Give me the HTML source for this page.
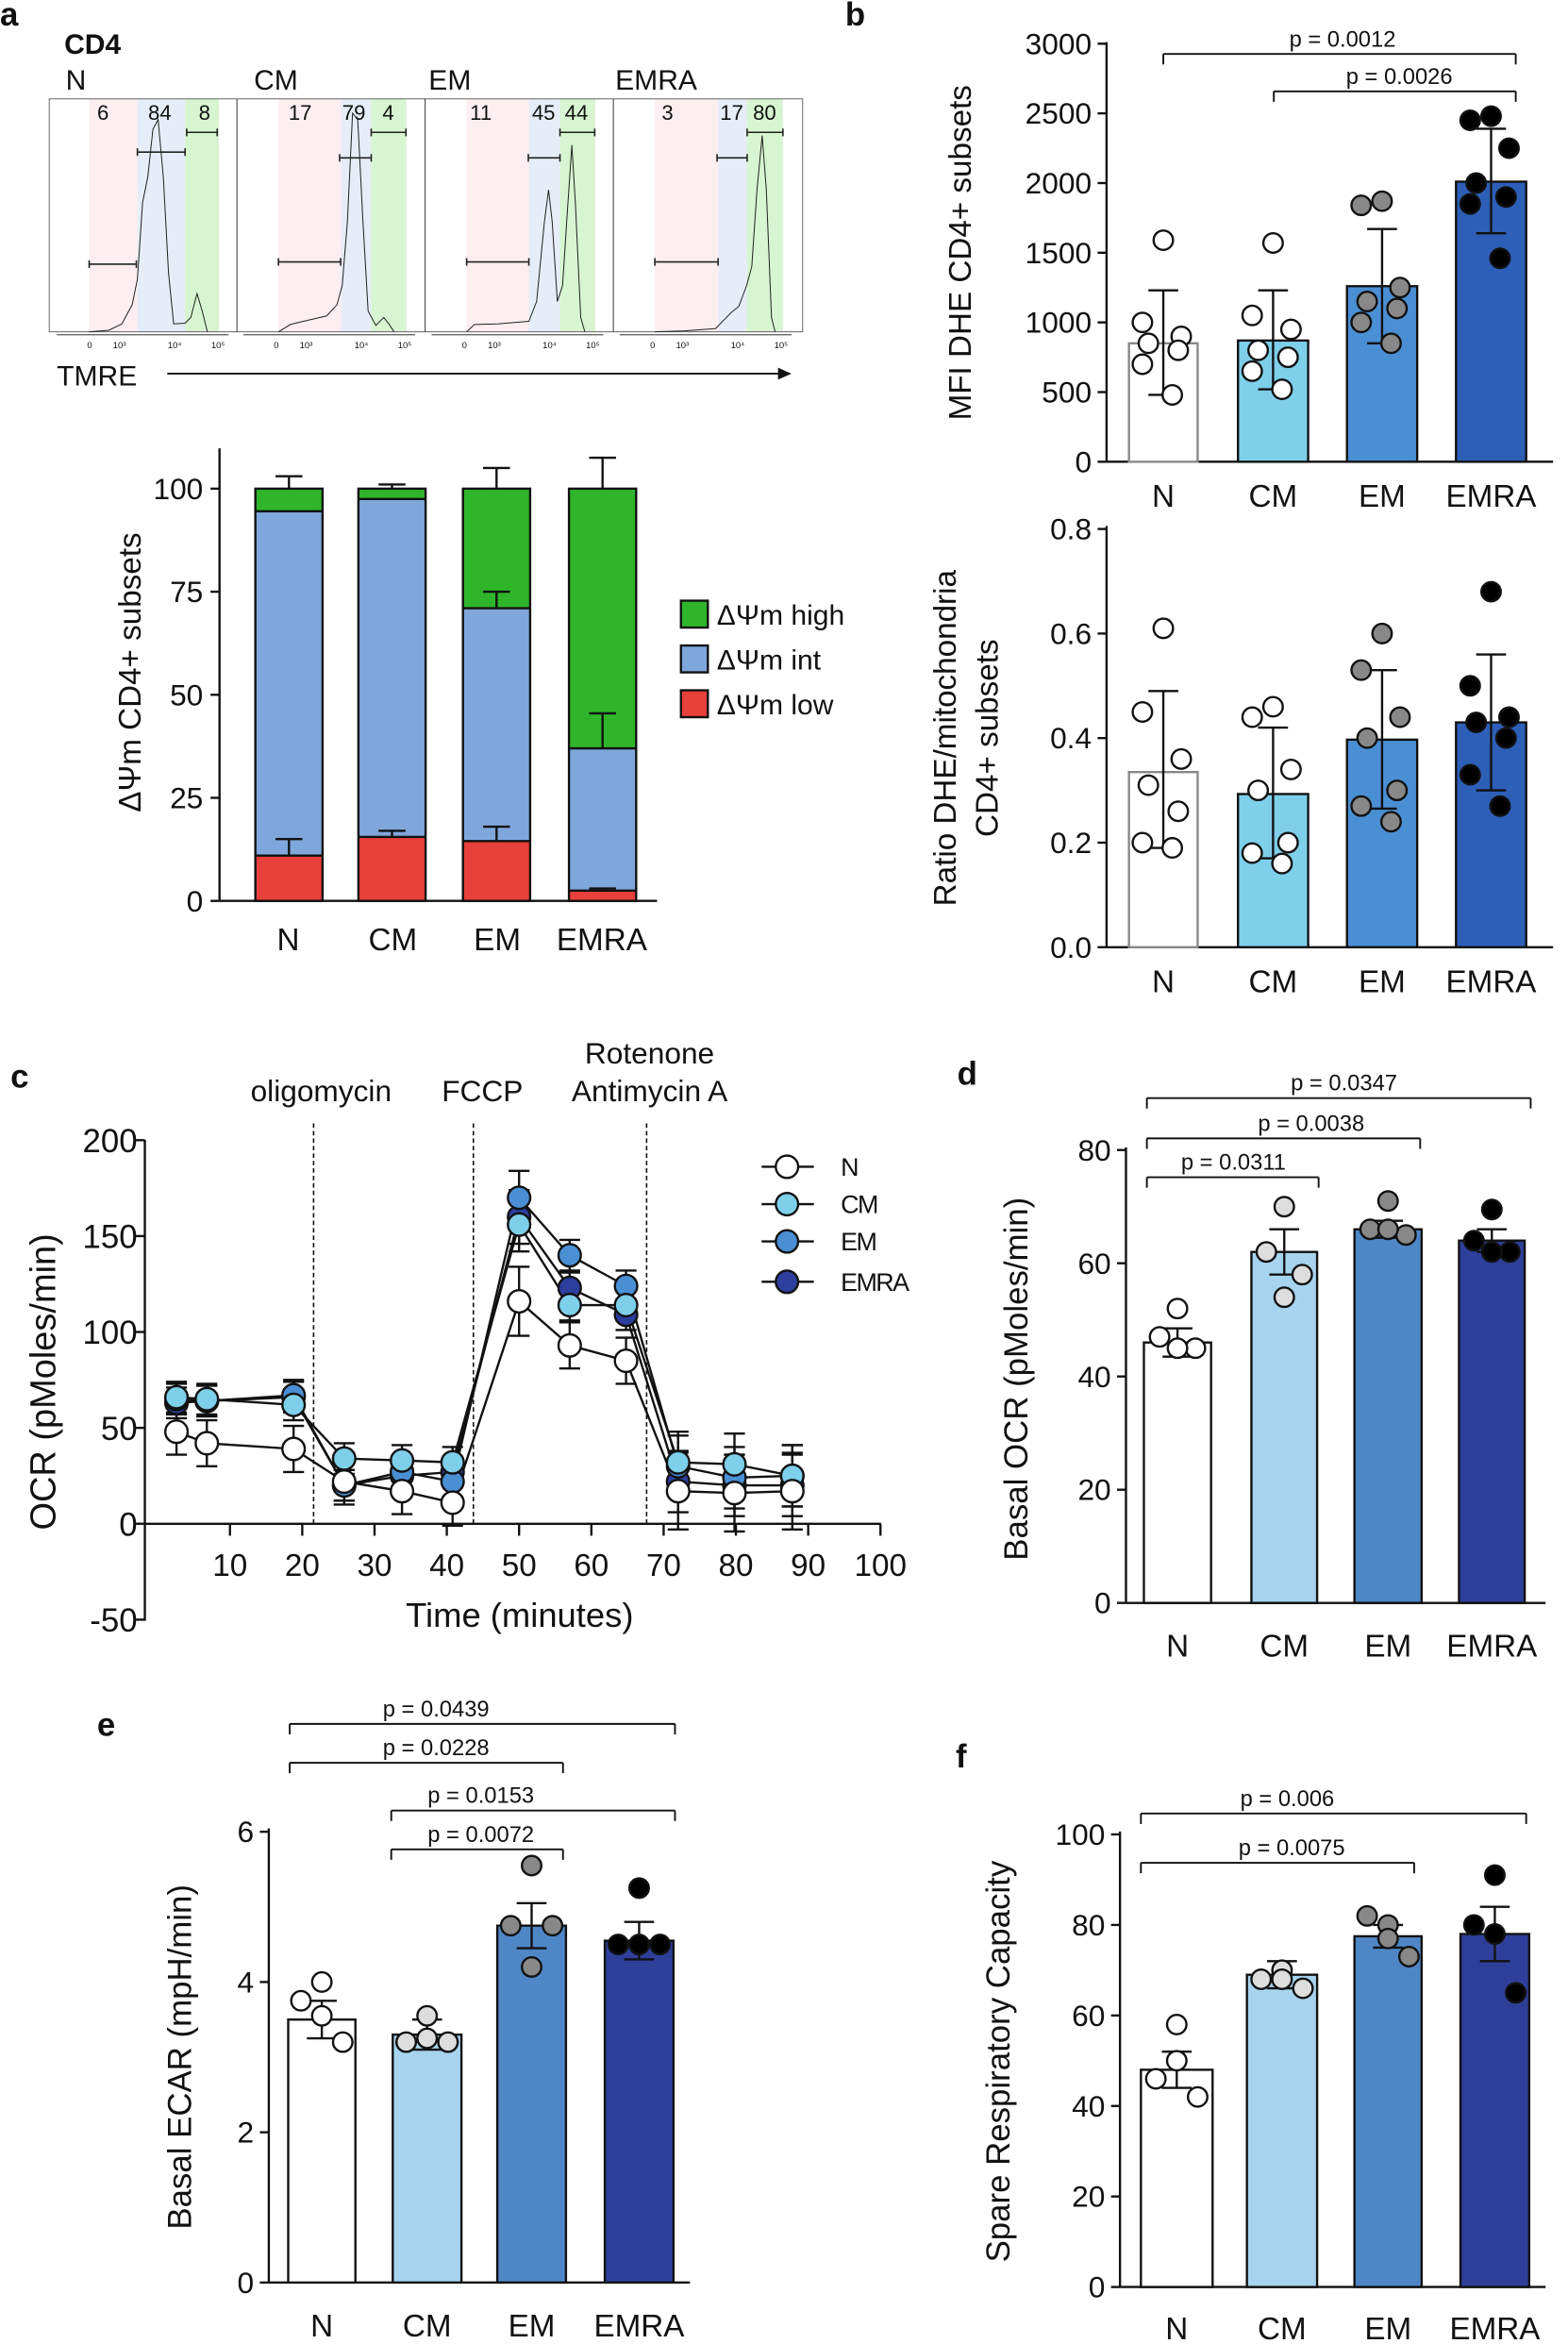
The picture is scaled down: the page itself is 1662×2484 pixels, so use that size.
<!DOCTYPE html>
<html><head><meta charset="utf-8"><style>html,body{margin:0;padding:0;background:#fff}svg{display:block}text{font-family:"Liberation Sans",Arial,sans-serif;fill:#111}</style></head>
<body>
<svg id="s" width="1662" height="2484" viewBox="0 0 1050 1569" xmlns="http://www.w3.org/2000/svg"></svg>
<script>
const S=document.getElementById('s');let H='';
function t(x,y,s,sz,anc,extra){H+=`<text x="${x}" y="${y}" font-size="${sz||20}" text-anchor="${anc||'middle'}" ${extra||''}>${s}</text>`;}
function l(x1,y1,x2,y2,w,extra){H+=`<line x1="${x1}" y1="${y1}" x2="${x2}" y2="${y2}" stroke="#111" stroke-width="${w||1.5}" ${extra||''}/>`;}
function r(x,y,w,h,f,st){H+=`<rect x="${x}" y="${y}" width="${w}" height="${h}" fill="${f}" ${st?'stroke="#111" stroke-width="1.5"':''}/>`;}
function c(x,y,f,rad){H+=`<circle cx="${x}" cy="${y}" r="${rad||6.5}" fill="${f}" stroke="#111" stroke-width="1.5"/>`;}
function rl(x,y,s,sz,rot){H+=`<text x="${x}" y="${y}" font-size="${sz||21}" text-anchor="middle" transform="rotate(-90 ${x} ${y})">${s}</text>`;}
// letters
[['a',0,17],['b',566,17],['c',7,728],['d',641,726],['e',65,1162],['f',640,1183]].forEach(a=>t(a[1],a[2],a[0],22,'start','font-weight="bold"'));
// ---- panel a histograms (zoom coords transformed)
t(43,36,'CD4',19,'start','font-weight="bold"');
[['N',44],['CM',170],['EM',287],['EMRA',412]].forEach(a=>t(a[1],60,a[0],19,'start'));
let g='<g transform="translate(0,-1.3) scale(0.3472,0.2137)">';
const bands=[[172,265,357,422],[537,657,716,784],[900,1020,1080,1148],[1263,1385,1441,1510]];
bands.forEach(b=>{g+=`<rect x="${b[0]}" y="315" width="${b[1]-b[0]}" height="730" fill="#fdeef0"/><rect x="${b[1]}" y="315" width="${b[2]-b[1]}" height="730" fill="#e6edf8"/><rect x="${b[2]}" y="315" width="${b[3]-b[2]}" height="730" fill="#d7f5d0"/>`;});
g+=`<rect x="95" y="315" width="1453" height="730" fill="none" stroke="#666" stroke-width="1" vector-effect="non-scaling-stroke"/>`;
[457,820,1183].forEach(x=>g+=`<line x1="${x}" y1="315" x2="${x}" y2="1045" stroke="#333" stroke-width="1" vector-effect="non-scaling-stroke"/>`);
const curves=[
"M172,1045 L210,1040 L235,1020 L255,960 L265,880 L275,640 L285,560 L295,410 L305,380 L315,560 L325,860 L335,1020 L357,1018 L368,1000 L380,925 L390,980 L400,1045",
"M537,1045 L560,1022 L590,1010 L630,995 L650,960 L660,900 L670,700 L680,360 L690,380 L700,700 L710,980 L725,1025 L740,1000 L750,1020 L760,1045",
"M900,1045 L915,1022 L960,1020 L1020,1012 L1035,950 L1050,700 L1058,600 L1065,700 L1075,950 L1085,900 L1095,650 L1103,460 L1110,650 L1120,1000 L1128,1045",
"M1263,1045 L1320,1042 L1380,1035 L1395,1010 L1410,985 L1425,965 L1440,900 L1450,840 L1460,600 L1470,430 L1478,600 L1488,1000 L1495,1045"];
curves.forEach(p=>g+=`<path d="${p}" fill="none" stroke="#222" stroke-width="1" vector-effect="non-scaling-stroke"/>`);
const gates=[[[172,263,833],[265,357,482],[360,419,420]],[[537,657,826],[655,716,500],[716,783,420]],[[900,1020,826],[1019,1080,500],[1080,1147,420]],[[1263,1385,826],[1383,1441,500],[1441,1510,420]]];
gates.forEach(gs=>gs.forEach(q=>{g+=`<path d="M${q[0]},${q[2]} H${q[1]} M${q[0]},${q[2]-12} V${q[2]+12} M${q[1]},${q[2]-12} V${q[2]+12}" stroke="#222" stroke-width="1.6" fill="none" vector-effect="non-scaling-stroke"/>`;}));
g+='</g>';H+=g;
const nums=[[69,'6'],[107,'84'],[137,'8'],[201,'17'],[237,'79'],[260,'4'],[322,'11'],[364,'45'],[386,'44'],[447,'3'],[490,'17'],[512,'80']];
nums.forEach(n=>t(n[0],80,n[1],14));
[33,158,284,410].forEach(o=>{const xs=[60,80,117,146].map(v=>v-33+o);t(xs[0],233,'0',6);t(xs[1],233,'10³',6);t(xs[2],233,'10⁴',6);t(xs[3],233,'10⁵',6);l(o+5,224,o+120,224,0.6);});
t(38,258,'TMRE',19,'start');l(112,250,524,250,1.2);H+=`<path d="M521,246 L530,250 L521,254 Z" fill="#111"/>`;
// ---- stacked bar
l(147,300,147,603);l(147,603,440,603);
const ya=v=>603-v*2.76;
[0,25,50,75,100].forEach(v=>{l(141,ya(v),147,ya(v));t(136,ya(v)+7,v,20,'end');});
const st=[[171,11,94.5,100,15,null,103],[240,15.5,97.5,100,17,null,101],[310,14.5,71,100,18,75,105],[381,2.5,37,100,3,45.5,107.5]];
st.forEach(b=>{const x=b[0],w=45;r(x,ya(100),w,ya(b[2])-ya(100),'#2fb52a');r(x,ya(b[2]),w,ya(b[1])-ya(b[2]),'#7fa7dc');r(x,ya(b[1]),w,603-ya(b[1]),'#e8403a');
H+=`<rect x="${x}" y="${ya(100)}" width="${w}" height="${603-ya(100)}" fill="none" stroke="#111" stroke-width="1.5"/>`;l(x,ya(b[1]),x+w,ya(b[1]));l(x,ya(b[2]),x+w,ya(b[2]));
const m=x+w/2;l(m,ya(b[1]),m,ya(b[4]));l(m-9,ya(b[4]),m+9,ya(b[4]));if(b[5]){l(m,ya(b[2]),m,ya(b[5]));l(m-9,ya(b[5]),m+9,ya(b[5]));}l(m,ya(100),m,ya(b[6]));l(m-9,ya(b[6]),m+9,ya(b[6]));});
[['N',193],['CM',263],['EM',333],['EMRA',403]].forEach(a=>t(a[1],636,a[0],21));
rl(94,450,'ΔΨm CD4+ subsets',21);
[['#2fb52a','ΔΨm high',402],['#7fa7dc','ΔΨm int',432],['#e8403a','ΔΨm low',462]].forEach(a=>{r(456,a[2],18,18,a[0],1);t(480,a[2]+16,a[1],19,'start');});
// generic bar chart
function bars(o){const y=v=>o.y0-(v-o.min)*o.k;l(o.ax,o.ytop,o.ax,o.y0+(o.ext||0));l(o.ax,o.y0,o.xend,o.y0);
o.ticks.forEach(v=>{l(o.ax-6,y(v),o.ax,y(v));t(o.ax-10,y(v)+7,o.fmt?o.fmt(v):v,20,'end');});
o.b.forEach((b,i)=>{const x=b[0],w=b[1]-b[0],m=(b[0]+b[1])/2;H+=`<rect x="${x}" y="${y(b[2])}" width="${w}" height="${o.y0-y(b[2])}" fill="${o.col[i]}" stroke="${i==0&&o.grey?'#888':'#111'}" stroke-width="1.5"/>`;
l(m,y(b[3]),m,y(b[4]));l(m-10,y(b[3]),m+10,y(b[3]));l(m-10,y(b[4]),m+10,y(b[4]));
b[5].forEach((v,j)=>{const n=b[5].length;const dx=o.jit?o.jit[n][j]:0;c(m+dx,y(v),o.pc[i]);});
t(m,o.ly,o.labs[i],21);});
(o.br||[]).forEach(q=>{l(q[0],q[2],q[1],q[2],1.2);l(q[0],q[2],q[0],q[2]+7,1.2);l(q[1],q[2],q[1],q[2]+7,1.2);t(q[4],q[2]-5,q[3],15);});}
const L=['N','CM','EM','EMRA'];
const j7={7:[-14,8,-4,12,-10,6,-2],4:[-10,10,-8,9],6:[-10,10,-5,8,-12,6]};
const jit={7:[0,-14,12,-10,10,-14,6],4:[0,-12,0,12],6:[0,-12,12,-10,10,0]};
// b top
bars({ax:741,ytop:28,y0:309,min:0,k:0.0933,xend:1040,ticks:[0,500,1000,1500,2000,2500,3000],ly:339,labs:L,grey:1,
col:['#fff','#7ecfea','#4a8fd4','#2d5fb8'],pc:['#fff','#fff','#888','#000'],jit:jit,
b:[[756,802,850,480,1230,[1590,1000,900,850,800,700,480]],[829,876,870,520,1230,[1570,1050,950,800,750,650,520]],[902,949,1260,850,1670,[1870,1840,1250,1150,1100,1000,850]],[975,1022,2010,1640,2390,[2480,2450,2250,2000,1900,1850,1460]]],
br:[[779,1015,36,'p = 0.0012',899],[853,1015,61,'p = 0.0026',937]]});
rl(650,169,'MFI DHE CD4+ subsets',21);
// b bottom
bars({ax:741,ytop:352,y0:634,min:0,k:350,xend:1040,ticks:[0,0.2,0.4,0.6,0.8],fmt:v=>v.toFixed(1),ly:664,labs:L,grey:1,
col:['#fff','#7ecfea','#4a8fd4','#2d5fb8'],pc:['#fff','#fff','#888','#000'],jit:jit,
b:[[756,802,0.335,0.19,0.49,[0.61,0.45,0.36,0.31,0.26,0.2,0.19]],[829,876,0.293,0.17,0.42,[0.46,0.44,0.34,0.3,0.2,0.18,0.16]],[902,949,0.397,0.265,0.53,[0.6,0.53,0.44,0.4,0.3,0.27,0.24]],[975,1022,0.43,0.3,0.56,[0.68,0.5,0.44,0.43,0.4,0.33,0.27]]]});
rl(640,494,'Ratio DHE/mitochondria',21);rl(668,494,'CD4+ subsets',21);
// panel c
const cx=v=>105.6+v*4.84, cy=v=>1020-v*1.284;
l(97,763,97,1085);l(97,1020,590,1020);
[200,150,100,50,0,-50].forEach(v=>{l(91,cy(v),97,cy(v));t(92,cy(v)+8,v,22,'end');});
[10,20,30,40,50,60,70,80,90,100].forEach(v=>{l(cx(v),1020,cx(v),1028);t(cx(v),1055,v,21);});
[210,317,433].forEach(x=>l(x,752,x,1020,1,'stroke-dasharray="3,2"'));
t(215,737,'oligomycin',20);t(323,737,'FCCP',20);t(435,712,'Rotenone',20);t(435,737,'Antimycin A',20);
t(348,1089,'Time (minutes)',23);rl(37,925,'OCR (pMoles/min)',24);
const tx=[2.6,6.8,18.8,25.8,33.8,40.8,50,57,64.8,72,79.8,87.8];
const ser=[['#2d3e9f',[63,64,66,20,25,27,160,123,109,22,20,20],8],['#4a8fd4',[65,64,67,20,27,22,170,140,124,30,24,25],8],['#7ecfea',[66,65,62,34,33,32,156,114,114,32,31,25],8],['#fff',[48,42,39,22,17,11,116,93,85,17,16,17],12]];
ser.forEach(s=>{let p='';s[1].forEach((v,i)=>p+=(i?'L':'M')+cx(tx[i])+','+cy(v));H+=`<path d="${p}" fill="none" stroke="#111" stroke-width="1.5"/>`;
s[1].forEach((v,i)=>{const e=s[2]+(i==6?6:0)+(i>=9?8:0);l(cx(tx[i]),cy(v-e),cx(tx[i]),cy(v+e),1.5);l(cx(tx[i])-7,cy(v+e),cx(tx[i])+7,cy(v+e),1.5);l(cx(tx[i])-7,cy(v-e),cx(tx[i])+7,cy(v-e),1.5);});});
ser.forEach(s=>s[1].forEach((v,i)=>c(cx(tx[i]),cy(v),s[0],7.5)));
[['#fff','N',781],['#7ecfea','CM',806],['#4a8fd4','EM',831],['#2d3e9f','EMRA',858]].forEach(a=>{l(510,a[2],545,a[2]);c(527,a[2],a[0],7.5);t(563,a[2]+6,a[1],17,'start','letter-spacing="-1"');});
// panel d
const col2=['#fff','#a6d4ee','#4f86c6','#2e3f9a'],pc2=['#fff','#ddd','#888','#000'],jd={4:[0,-12,12,0]};
bars({ax:754,ytop:768,y0:1073,min:0,k:3.79,xend:1035,ticks:[0,20,40,60,80],ly:1109,labs:L,col:col2,pc:pc2,
jit:{4:[0,-12,12,0]},
b:[[766,811,46,43.5,48.5,[52,47,45,45]],[838,882,62,58,66,[70,62,58,54]],[907,952,66,64.5,67.5,[71,66,65,66]],[977,1021,64,62,66,[69.5,64,62,62]]].map(b=>{const p=b[5];b[5]=[p[0],p[1],p[2],p[3]];return b;}),
br:[[768,883,788,'p = 0.0311',826],[768,951,762,'p = 0.0038',878],[768,1025,735,'p = 0.0347',900]]});
rl(688,923,'Basal OCR (pMoles/min)',22);
// panel e
bars({ax:180,ytop:1224,y0:1528,min:0,k:50.3,xend:462,ticks:[0,2,4,6],ly:1564,labs:L,col:col2,pc:pc2,
jit:{4:[0,-14,14,0]},
b:[[193,238,3.5,3.25,3.75,[4.0,3.75,3.2,3.55]],[263,309,3.3,3.1,3.5,[3.55,3.2,3.2,3.25]],[333,379,4.75,4.45,5.05,[5.55,4.75,4.75,4.2]],[405,451,4.55,4.3,4.8,[5.25,4.5,4.5,4.5]]],
br:[[194,452,1154,'p = 0.0439',292],[194,377,1180,'p = 0.0228',292],[262,452,1212,'p = 0.0153',322],[262,377,1238,'p = 0.0072',322]]});
rl(128,1377,'Basal ECAR (mpH/min)',22);
// panel f
bars({ax:750,ytop:1226,y0:1531,min:0,k:3.03,xend:1035,ticks:[0,20,40,60,80,100],ly:1566,labs:L,col:col2,pc:pc2,
jit:{4:[0,-14,14,0]},
b:[[764,812,48,44,52,[58,46,42,50]],[835,882,69,66,72,[70,68,66,68]],[907,952,77.5,75,80,[80,82,73,77]],[978,1024,78,72,84,[91,80,65,78]]],
br:[[764,1022,1214,'p = 0.006',862],[764,947,1247,'p = 0.0075',865]]});
rl(676,1380,'Spare Respiratory Capacity',22);
S.innerHTML=H;
</script>
</body></html>
